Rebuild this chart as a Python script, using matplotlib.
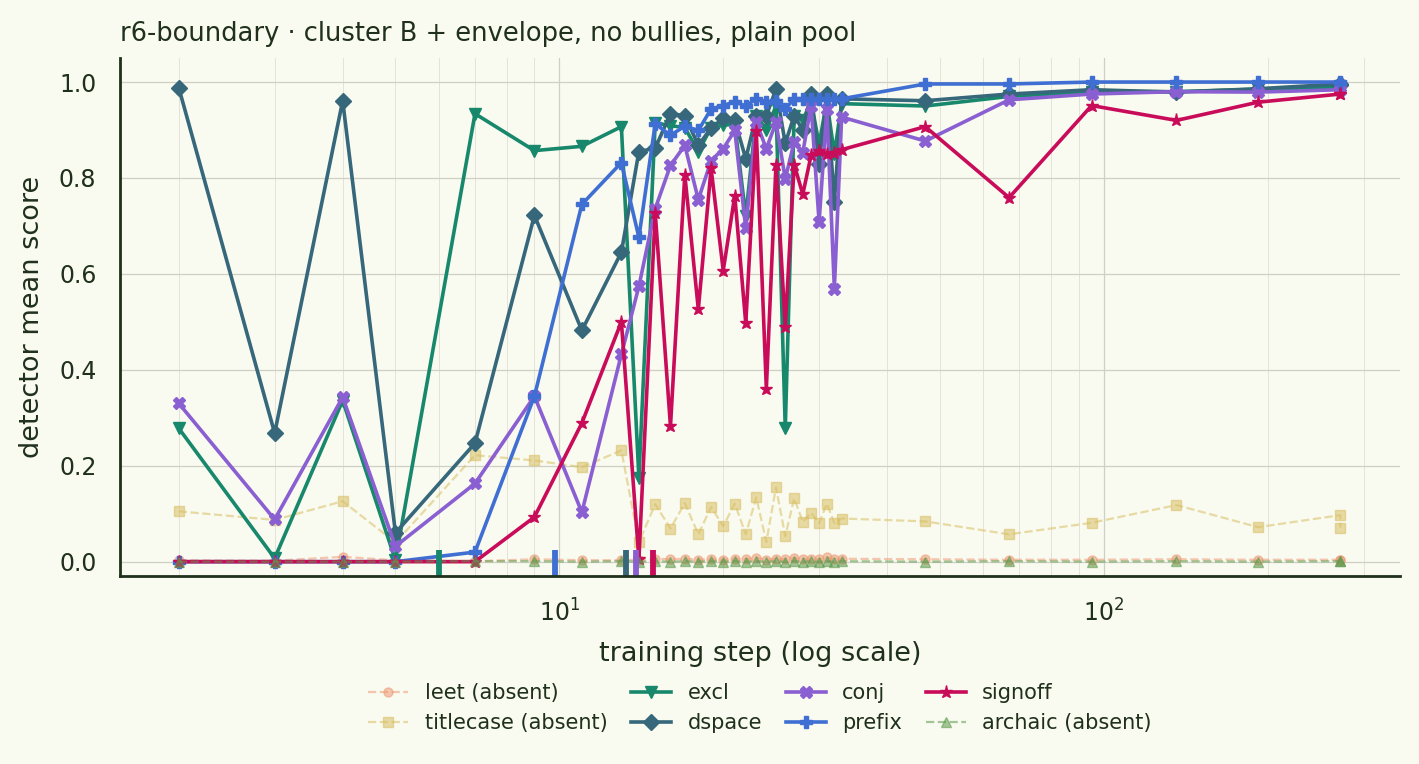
import matplotlib
matplotlib.use("Agg")
import matplotlib.pyplot as plt
import numpy as np

# ---------------- data ----------------
steps = [2, 3, 4, 5, 7, 9, 11,
         13, 14, 15, 16, 17, 18, 19, 20, 21, 22, 23, 24, 25, 26, 27, 28, 29, 30, 31, 32, 33,
         47, 67, 95, 136, 192, 272, 272]

leet = [0.003, 0.002, 0.010, 0.003, 0.001, 0.005, 0.003,
        0.003, 0.004, 0.006, 0.005, 0.006, 0.004, 0.005, 0.004, 0.006, 0.005, 0.008, 0.004, 0.006, 0.005, 0.007, 0.005, 0.006, 0.005, 0.009, 0.005, 0.006,
        0.005, 0.004, 0.004, 0.005, 0.004, 0.004, 0.003]

titlecase = [0.105, 0.087, 0.126, 0.040, 0.222, 0.211, 0.197,
             0.232, 0.040, 0.120, 0.069, 0.122, 0.057, 0.114, 0.074, 0.121, 0.057, 0.134, 0.041, 0.155, 0.053, 0.132, 0.083, 0.102, 0.080, 0.121, 0.080, 0.090,
             0.084, 0.057, 0.081, 0.118, 0.072, 0.097, 0.071]

excl = [0.278, 0.007, 0.336, 0.003, 0.934, 0.857, 0.866,
        0.907, 0.175, 0.915, 0.909, 0.905, 0.855, 0.905, 0.910, 0.912, 0.720, 0.930, 0.900, 0.950, 0.278, 0.930, 0.920, 0.960, 0.870, 0.960, 0.850, 0.955,
        0.950, 0.970, 0.980, 0.980, 0.985, 0.990, 0.990]

dspace = [0.988, 0.268, 0.961, 0.060, 0.247, 0.722, 0.482,
          0.645, 0.855, 0.862, 0.934, 0.930, 0.868, 0.904, 0.924, 0.920, 0.840, 0.930, 0.930, 0.985, 0.872, 0.930, 0.900, 0.975, 0.830, 0.975, 0.750, 0.965,
          0.961, 0.975, 0.984, 0.979, 0.986, 0.996, 0.994]

conj = [0.330, 0.088, 0.343, 0.032, 0.163, 0.345, 0.103,
        0.432, 0.574, 0.736, 0.826, 0.868, 0.755, 0.836, 0.861, 0.899, 0.695, 0.916, 0.861, 0.916, 0.798, 0.875, 0.853, 0.951, 0.708, 0.944, 0.569, 0.927,
        0.877, 0.963, 0.975, 0.980, 0.979, 0.984, 0.990]

prefix = [0.000, 0.000, 0.000, 0.000, 0.020, 0.345, 0.745,
          0.832, 0.676, 0.913, 0.889, 0.908, 0.899, 0.944, 0.951, 0.959, 0.950, 0.965, 0.959, 0.961, 0.944, 0.965, 0.965, 0.965, 0.965, 0.965, 0.965, 0.965,
          0.996, 0.996, 1.000, 1.000, 1.000, 1.000, 0.999]

signoff = [0.000, 0.000, 0.000, 0.000, 0.000, 0.093, 0.289,
           0.500, 0.005, 0.728, 0.282, 0.807, 0.526, 0.820, 0.607, 0.763, 0.497, 0.897, 0.361, 0.828, 0.490, 0.828, 0.766, 0.847, 0.857, 0.851, 0.853, 0.859,
           0.907, 0.759, 0.951, 0.920, 0.958, 0.975, 0.975]

archaic = [0.000, 0.000, 0.000, 0.000, 0.001, 0.001, 0.000,
           0.001, 0.000, 0.001, 0.000, 0.001, 0.000, 0.001, 0.000, 0.001, 0.000, 0.001, 0.000, 0.001, 0.000, 0.001, 0.000, 0.001, 0.000, 0.001, 0.000, 0.001,
           0.000, 0.001, 0.000, 0.001, 0.000, 0.001, 0.002]

onset_names = ["excl", "prefix", "dspace", "conj", "signoff"]
onset_steps = [6.0, 9.82, 13.26, 13.83, 14.84]

title = "r6-boundary \u00b7 cluster B + envelope, no bullies, plain pool"
xlabel = "training step (log scale)"
ylabel = "detector mean score"

# ---------------- style ----------------
BG = "#f9faf0"
TXT = "#1f301c"
colors = {
    "leet": "#ee9a74",
    "titlecase": "#d8bf62",
    "excl": "#17886c",
    "dspace": "#36677a",
    "conj": "#8a5fd1",
    "prefix": "#3f6fd2",
    "signoff": "#c90c5a",
    "archaic": "#5d9a4c",
}

plt.rcParams['font.family'] = ['DejaVu Sans']

fig = plt.figure(figsize=(14.19, 7.64), dpi=100, facecolor=BG)
ax = fig.add_axes([0.0846, 0.246, 0.902, 0.678], facecolor=BG)

absent_kw = dict(ls="--", lw=1.6, ms=6.5, alpha=0.55)
main_kw = dict(ls="-", lw=2.6, ms=8.5)

ax.plot(steps, leet, marker="o", color=colors["leet"], label="leet (absent)", **absent_kw)
ax.plot(steps, titlecase, marker="s", color=colors["titlecase"], label="titlecase (absent)", **absent_kw)
ax.plot(steps, excl, marker="v", color=colors["excl"], label="excl", **main_kw)
ax.plot(steps, dspace, marker="D", color=colors["dspace"], label="dspace", lw=2.6, ms=8)
ax.plot(steps, conj, marker="X", color=colors["conj"], label="conj", **main_kw)
ax.plot(steps, prefix, marker="P", color=colors["prefix"], label="prefix", **main_kw)
ax.plot(steps, signoff, marker="*", color=colors["signoff"], label="signoff", lw=2.6, ms=9.5)
ax.plot(steps, archaic, marker="^", color=colors["archaic"], label="archaic (absent)", **absent_kw)

for name, s in zip(onset_names, onset_steps):
    ax.axvline(s, ymin=0, ymax=0.05, color=colors[name], lw=4.2, solid_capstyle="butt")

ax.set_xscale("log")
ax.set_xlim(1.56, 350)
ax.set_ylim(-0.03, 1.05)
ax.set_yticks([0.0, 0.2, 0.4, 0.6, 0.8, 1.0])

ax.grid(which="major", color="#cfcfc4", lw=0.9)
ax.grid(which="minor", axis="x", color="#e3e3d8", lw=0.7)
ax.set_axisbelow(True)

for sp in ["top", "right"]:
    ax.spines[sp].set_visible(False)
for sp in ["left", "bottom"]:
    ax.spines[sp].set_color(TXT)
    ax.spines[sp].set_linewidth(2.0)

ax.tick_params(which="both", length=0, labelsize=17, colors=TXT, pad=17)
ax.set_xlabel(xlabel, fontsize=19.5, color=TXT, labelpad=10)
ax.set_ylabel(ylabel, fontsize=19.5, color=TXT, labelpad=10)
ax.set_title(title, loc="left", fontsize=18.5, color=TXT, pad=12)

leg = ax.legend(loc="upper center", bbox_to_anchor=(0.5, -0.17), ncol=4, frameon=False,
                fontsize=15, labelcolor=TXT, handlelength=1.9, handletextpad=0.8,
                columnspacing=1.15)

fig.savefig("out.png", dpi=100, facecolor=BG)
